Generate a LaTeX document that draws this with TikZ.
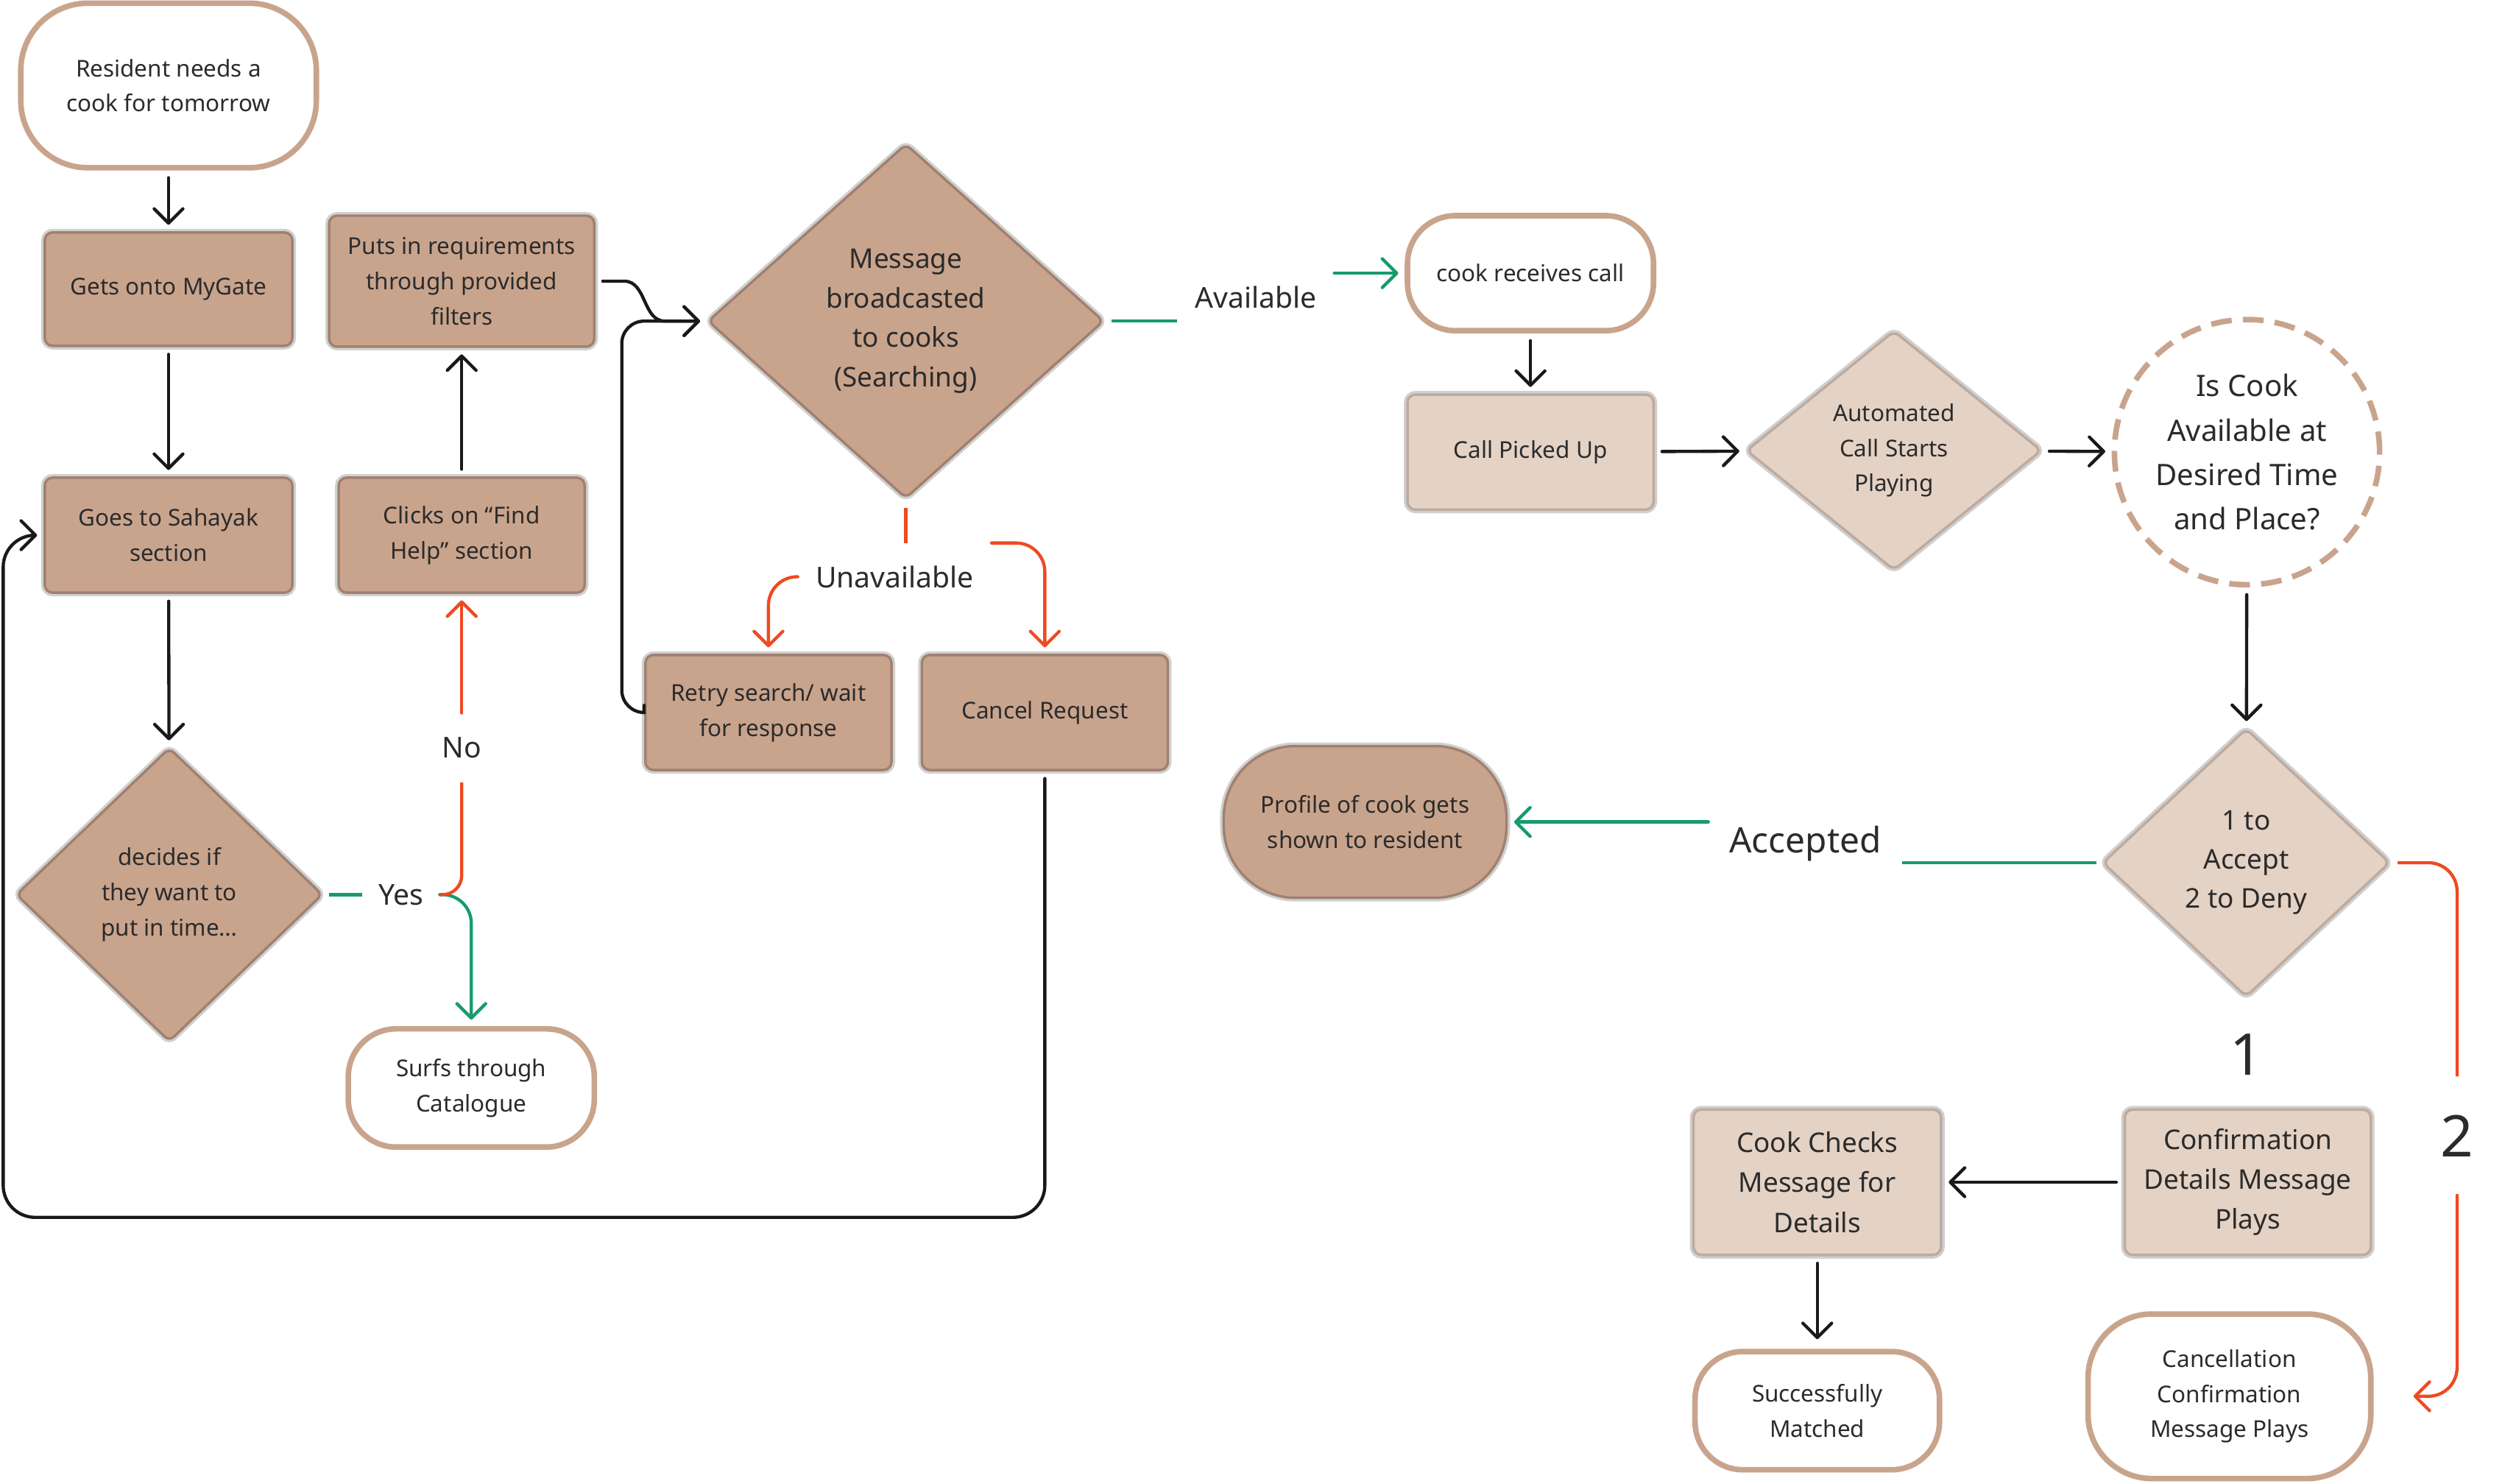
\documentclass[tikz,border=0pt]{standalone}
\usepackage{fontspec}
\setmainfont{Noto Sans}
\usepackage{tikz}
\usetikzlibrary{arrows.meta,shapes.geometric,positioning}

\definecolor{tanfill}{HTML}{C9A48D}
\definecolor{tanedge}{HTML}{A08170}
\definecolor{lightfill}{HTML}{E4D2C5}
\definecolor{lightedge}{HTML}{BDAB9F}
\definecolor{halo}{HTML}{D0D0D0}
\definecolor{okgreen}{HTML}{179B6C}
\definecolor{nored}{HTML}{EE4A22}
\definecolor{ink}{HTML}{2B2B2B}

\tikzset{
  card/.style={rectangle, rounded corners=5pt, align=center, inner sep=0pt, line width=1.6pt,
    preaction={draw=halo, line width=4.6pt}, text=ink,
    minimum width=155pt, minimum height=72pt, font=\fontsize{14.5pt}{22pt}\selectfont},
  darkcard/.style={card, fill=tanfill, draw=tanedge},
  lightcard/.style={card, fill=lightfill, draw=lightedge},
  endcard/.style={rectangle, rounded corners=30pt, align=center, inner sep=0pt, line width=3.5pt,
    fill=white, draw=tanfill, text=ink,
    minimum width=155pt, minimum height=74pt, font=\fontsize{14.5pt}{22pt}\selectfont},
  choice/.style={diamond, rounded corners=4pt, align=center, inner sep=0pt, line width=1.6pt,
    preaction={draw=halo, line width=4.6pt}, text=ink, font=\fontsize{14.5pt}{22pt}\selectfont},
  askcircle/.style={circle, minimum size=166pt, inner sep=0pt, align=center, fill=white,
    draw=tanfill, line width=3.5pt, dash pattern=on 13pt off 7pt, text=ink,
    font=\fontsize{18.5pt}{27.7pt}\selectfont},
  tag/.style={text=ink, inner xsep=11pt, inner ysep=14pt, font=\fontsize{18pt}{22pt}\selectfont},
  flow/.style={draw=black!90, line width=2pt, line cap=round, shorten <=4.5pt, shorten >=4pt,
    -{Straight Barb[length=9pt,width=18pt,round]}},
  okline/.style={draw=okgreen, line width=2pt, shorten <=3pt},
  okflow/.style={flow, draw=okgreen, shorten <=0pt},
  noline/.style={draw=nored, line width=2pt, shorten <=3pt},
  noflow/.style={flow, draw=nored, shorten <=0pt},
}

\begin{document}
\begin{tikzpicture}[x=1pt,y=1pt,yscale=-1,xscale=1]
  \useasboundingbox (0,0) rectangle (1568,928.6);

  %Shape: Rounded Rect [start]
  \node[endcard, minimum width=185pt, minimum height=103pt, rounded corners=42pt] (start) at (105.5,53.5) {Resident needs a\\cook for tomorrow};
  %Shape: Rect
  \node[darkcard, minimum height=71pt] (gets) at (105.5,181) {Gets onto MyGate};
  \node[darkcard] (sahayak) at (105.5,335) {Goes to Sahayak\\section};
  %Shape: Diamond
  \node[choice, fill=tanfill, draw=tanedge, minimum width=192pt, minimum height=184pt] (decides) at (106,560) {decides if\\they want to\\put in time…};
  %Shape: Rect
  \node[darkcard, minimum width=166pt, minimum height=82pt] (puts) at (289,176) {Puts in requirements\\through provided\\filters};
  \node[darkcard, minimum width=154pt] (clicks) at (289,335) {Clicks on “Find\\Help” section};
  %Shape: Rounded Rect
  \node[endcard, minimum width=154pt] (surfs) at (295,681) {Surfs through\\Catalogue};
  %Shape: Diamond
  \node[choice, fill=tanfill, draw=tanedge, minimum width=248pt, minimum height=222pt,
    font=\fontsize{17pt}{24.7pt}\selectfont] (msg) at (567,201) {Message\\broadcasted\\to cooks\\(Searching)};
  %Shape: Rect
  \node[darkcard, minimum width=154pt] (retry) at (481,446) {Retry search/ wait\\for response};
  \node[darkcard, minimum width=154pt] (cancel) at (654,446) {Cancel Request};
  %Shape: Rounded Rect
  \node[endcard, minimum width=154pt, minimum height=72pt] (cookcall) at (958,171) {cook receives call};
  %Shape: Rect
  \node[lightcard, minimum width=154pt] (picked) at (958,283) {Call Picked Up};
  %Shape: Diamond
  \node[choice, fill=lightfill, draw=lightedge, minimum width=185pt, minimum height=150pt] (auto) at (1185.5,282) {Automated\\Call Starts\\Playing};
  %Shape: Circle
  \node[askcircle] (iscook) at (1406.5,283) {Is Cook\\Available at\\Desired Time\\and Place?};
  %Shape: Diamond
  \node[choice, fill=lightfill, draw=lightedge, minimum width=180pt, minimum height=168pt,
    font=\fontsize{17pt}{24.5pt}\selectfont] (accept) at (1406,540) {1 to\\Accept\\2 to Deny};
  %Shape: Rounded Rect
  \node[darkcard, minimum width=177pt, minimum height=95pt, rounded corners=45pt] (profile) at (854.5,514.5) {Profile of cook gets\\shown to resident};
  %Shape: Rect
  \node[lightcard, minimum width=154pt, minimum height=91pt,
    font=\fontsize{17pt}{25pt}\selectfont] (confirm) at (1407,740) {Confirmation\\Details Message\\Plays};
  \node[lightcard, minimum height=91pt,
    font=\fontsize{17pt}{25pt}\selectfont] (checks) at (1137.5,740) {Cook Checks\\Message for\\Details};
  %Shape: Rounded Rect
  \node[endcard, minimum width=153pt] (matched) at (1137.5,883) {Successfully\\Matched};
  \node[endcard, minimum width=177pt, minimum height=103pt, rounded corners=40pt] (cancelmsg) at (1395.5,874) {Cancellation\\Confirmation\\Message Plays};

  % Text Node
  \node[tag, inner xsep=10pt] (yes) at (251,560) {Yes};
  % Text Node
  \node[tag, inner ysep=15pt] (no) at (289,468) {No};
  % Text Node
  \node[tag] (unavail) at (560,361) {Unavailable};
  % Text Node
  \node[tag] (avail) at (786,186) {Available};
  % Text Node
  \node[tag, inner xsep=13pt, font=\fontsize{22pt}{26pt}\selectfont] (accepted) at (1130,528) {Accepted};
  % Text Node
  \node[tag, font=\fontsize{36pt}{40pt}\selectfont] (one) at (1406,660) {1};
  % Text Node
  \node[tag, inner ysep=24pt, font=\fontsize{36pt}{40pt}\selectfont] (two) at (1538,711) {2};

  \coordinate (loopcorner) at (2,762);

  %Straight Lines
  \draw[flow] (start) -- (gets);
  \draw[flow] (gets) -- (sahayak);
  \draw[flow] (sahayak) -- (decides);
  \draw[flow] (clicks) -- (puts);
  \draw[flow] (puts.east) -- ++(18,0) to[out=0,in=180] ([xshift=-26pt]msg.west) -- (msg.west);
  \draw[flow, rounded corners=14pt] (retry.west) -| ([xshift=-53pt]msg.west) -- (msg.west);
  \draw[flow, rounded corners=20pt] (cancel.south) |- (loopcorner) |- (sahayak.west);

  %Yes / No
  \draw[okline] (decides.east) -- (yes.west);
  \draw[okflow, rounded corners=18pt] (yes.east) -| (surfs.north);
  \draw[noline, shorten <=0pt, rounded corners=12pt] (yes.east) -| (no.south);
  \draw[noflow] (no.north) -- (clicks.south);

  %Unavailable
  \draw[noline, shorten <=5pt] (msg.south) -- (msg.south |- unavail.north);
  \draw[noflow, rounded corners=18pt] (unavail.west) -| (retry.north);
  \draw[noflow, rounded corners=18pt] (unavail.north east) -| (cancel.north);

  %Available
  \draw[okline, shorten <=4pt] (msg.east) -- (msg.east -| avail.west);
  \draw[okflow] (avail.east |- cookcall.west) -- (cookcall.west);
  \draw[flow] (cookcall) -- (picked);
  \draw[flow] (picked) -- (auto);
  \draw[flow] (auto) -- (iscook);
  \draw[flow] (iscook) -- (accept);

  %Accepted
  \draw[okline] (accept.west) -- (accept.west -| accepted.east);
  \draw[okflow] (accepted.west |- profile.east) -- (profile.east);

  %Deny
  \draw[noline, shorten <=4pt, rounded corners=18pt] (accept.east) -| (two.north);
  \draw[noflow, rounded corners=18pt] (two.south) |- ([xshift=21pt]cancelmsg.east);

  \draw[flow] (confirm) -- (checks);
  \draw[flow, shorten >=6pt] (checks) -- (matched);
\end{tikzpicture}
\end{document}
